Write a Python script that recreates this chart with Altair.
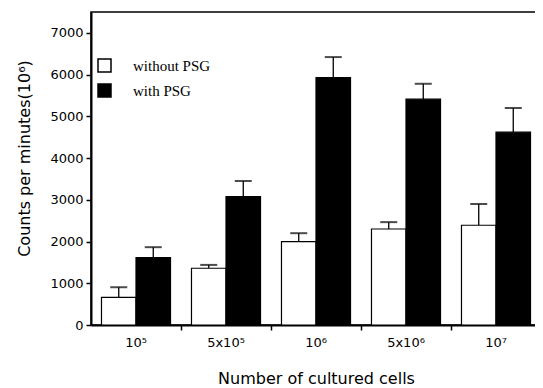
import altair as alt
import pandas as pd

groups = ["10⁵", "5x10⁵", "10⁶", "5x10⁶", "10⁷"]
series_order = ["without PSG", "with PSG"]
without_vals = [660, 1360, 2000, 2300, 2390]
without_err = [905, 1440, 2200, 2465, 2900]
with_vals = [1615, 3075, 5930, 5410, 4620]
with_err = [1865, 3450, 6420, 5780, 5200]
y_ticks = [0, 500, 1000, 1500, 2000, 2500, 3000, 3500, 4000, 4500,
           5000, 5500, 6000, 6500, 7000]

rows = []
for g, v, e in zip(groups, without_vals, without_err):
    rows.append({"group": g, "series": "without PSG", "value": v, "err": e})
for g, v, e in zip(groups, with_vals, with_err):
    rows.append({"group": g, "series": "with PSG", "value": v, "err": e})
df = pd.DataFrame(rows)

x_enc = alt.X(
    "group:N",
    sort=groups,
    scale=alt.Scale(paddingInner=0.233, paddingOuter=0.1165),
    axis=alt.Axis(
        title="Number of cultured cells",
        labelAngle=0,
        bandPosition=1.152,
        tickSize=5,
        labelFont="DejaVu Sans",
        labelFontSize=13,
        labelPadding=6,
        titleFont="DejaVu Sans",
        titleFontSize=16,
        titleFontWeight="normal",
        titlePadding=21,
    ),
)
xoff = alt.XOffset("series:N", sort=series_order)
y_enc = alt.Y(
    "value:Q",
    scale=alt.Scale(domain=[0, 7500], nice=False),
    axis=alt.Axis(
        title="Counts per minutes(10⁶)",
        values=y_ticks,
        format="d",
        labelExpr="datum.value % 1000 === 0 ? datum.label : ''",
        tickSize={"condition": {"test": "datum.value % 1000 === 0", "value": 5}, "value": 3},
        labelFont="DejaVu Sans",
        labelFontSize=13,
        labelPadding=3,
        titleFont="DejaVu Sans",
        titleFontSize=16,
        titleFontWeight="normal",
        titlePadding=17,
        titleY=146,
    ),
)

base = alt.Chart(df)

bars = base.mark_bar(stroke="black", strokeWidth=1.2).encode(
    x=x_enc,
    xOffset=xoff,
    y=y_enc,
    fill=alt.Fill(
        "series:N",
        sort=series_order,
        scale=alt.Scale(domain=series_order, range=["white", "black"]),
        legend=alt.Legend(
            title=None,
            orient="none",
            legendX=6,
            legendY=46,
            symbolType="square",
            symbolSize=169,
            symbolStrokeColor="black",
            symbolStrokeWidth=1.5,
            labelFont="Liberation Serif",
            labelFontSize=15,
            labelColor="black",
            labelOffset=21,
            rowPadding=6,
        ),
    ),
)

rules = base.mark_rule(color="black", strokeWidth=1.3).encode(
    x=x_enc, xOffset=xoff, y="value:Q", y2="err:Q"
)
caps = base.mark_tick(color="black", thickness=2, size=17).encode(
    x=x_enc, xOffset=xoff, y="err:Q"
)

chart = (
    alt.layer(rules, bars, caps)
    .properties(
        width=450,
        height=313,
        autosize=alt.AutoSizeParams(type="none"),
        padding={"left": 83, "top": 4, "right": -6, "bottom": 64},
        background="white",
    )
    .configure_view(stroke="black", strokeWidth=1.5)
    .configure_axis(
        domainColor="black",
        domainWidth=2,
        tickColor="black",
        tickWidth=1.5,
        labelColor="black",
        titleColor="black",
        grid=False,
    )
)

chart.save("out.html", embed_options={"renderer": "svg", "actions": False})
